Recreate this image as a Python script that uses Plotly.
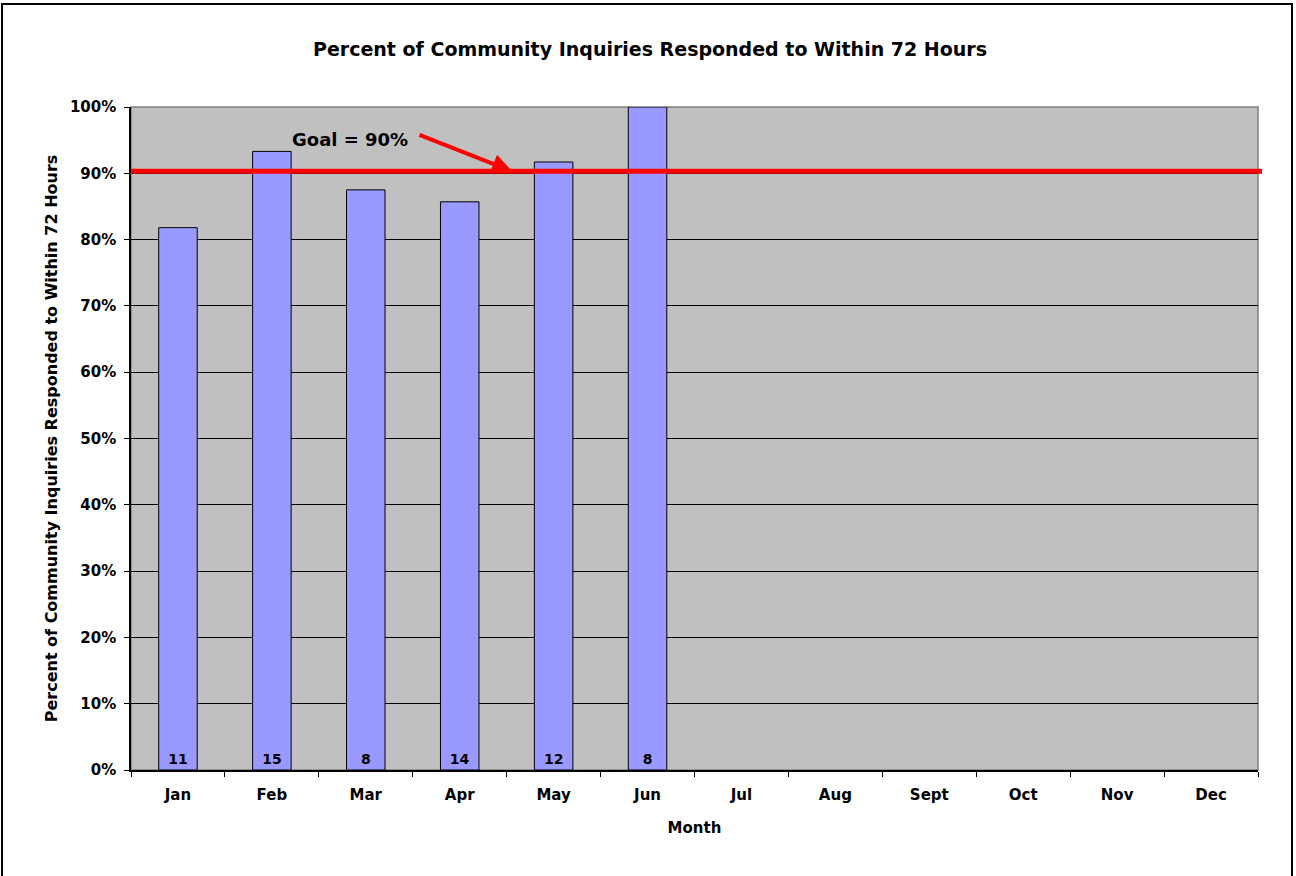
import plotly.graph_objects as go

months = ['Jan', 'Feb', 'Mar', 'Apr', 'May', 'Jun', 'Jul', 'Aug', 'Sept', 'Oct', 'Nov', 'Dec']
pct_within_72h = [0.818, 0.933, 0.875, 0.857, 0.917, 1.0, None, None, None, None, None, None]
inquiry_counts = ['11', '15', '8', '14', '12', '8', '', '', '', '', '', '']
goal = 0.903  # drawn goal line (label says 90%)

FONT = 'DejaVu Sans, Verdana, sans-serif'

W, H = 1296, 876
L, R, T, B = 131, 38, 107, 106
pw, ph = W - L - R, H - T - B


def px_x(x):
    return (x - L) / pw


def px_y(y):
    return (H - B - y) / ph


fig = go.Figure()
fig.add_trace(go.Bar(
    x=months,
    y=pct_within_72h,
    text=inquiry_counts,
    textposition='inside',
    insidetextanchor='start',
    textangle=0,
    constraintext='none',
    textfont=dict(family=FONT, size=14, color='black', weight='bold'),
    marker=dict(color='#9999FF', line=dict(color='black', width=1)),
    hoverinfo='x+y',
))

# gray plot border (top/right), axis lines drawn black over it
fig.add_shape(type='rect', xref='paper', yref='paper', x0=0, x1=1, y0=0, y1=1,
              line=dict(color='#808080', width=1.5), layer='below')
# outer chart border
fig.add_shape(type='rect', xref='paper', yref='paper',
              x0=px_x(2), x1=px_x(1292), y0=px_y(882), y1=px_y(4),
              line=dict(color='black', width=2))
# goal line
fig.add_shape(type='line', xref='paper', yref='y',
              x0=0, x1=px_x(1262), y0=goal, y1=goal,
              line=dict(color='#FF0000', width=5))

fig.add_annotation(xref='paper', yref='paper', x=px_x(350), y=px_y(139),
                   xanchor='center', yanchor='middle',
                   text='<b>Goal = 90%</b>', showarrow=False,
                   font=dict(family=FONT, size=18, color='black'))
fig.add_annotation(xref='paper', yref='y', x=px_x(512), y=goal,
                   ax=-94, ay=-37, text='', showarrow=True,
                   arrowhead=2, arrowsize=1, arrowwidth=4, arrowcolor='#FF0000')

fig.update_layout(
    width=W, height=H,
    margin=dict(l=L, r=R, t=T, b=B),
    paper_bgcolor='white',
    plot_bgcolor='#C0C0C0',
    bargap=0.59,
    showlegend=False,
    font=dict(family=FONT, color='black'),
    title=dict(text='<b>Percent of Community Inquiries Responded to Within 72 Hours</b>',
               x=650 / W, xanchor='center',
               y=1 - 49 / H, yanchor='middle',
               font=dict(family=FONT, size=19, color='black')),
    xaxis=dict(
        title=dict(text='<b>Month</b>', font=dict(size=15), standoff=20),
        tickfont=dict(size=15, weight='bold'),
        ticklabelstandoff=10,
        showline=True, linecolor='black', linewidth=1.5,
        ticks='outside', ticklen=5, tickcolor='black', tickson='boundaries',
        showgrid=False,
    ),
    yaxis=dict(
        title=dict(text='<b>Percent of Community Inquiries Responded to Within 72 Hours</b>',
                   font=dict(size=16), standoff=8),
        range=[0, 1], dtick=0.1, tickformat='.0%',
        tickfont=dict(size=15, weight='bold'),
        ticklabelstandoff=5,
        showline=True, linecolor='black', linewidth=1.5,
        ticks='outside', ticklen=5, tickcolor='black',
        showgrid=True, gridcolor='black', gridwidth=1,
        zeroline=False,
    ),
)

fig.write_html('out.html', config={'displayModeBar': False},
               post_script="document.body.style.margin='0';")
